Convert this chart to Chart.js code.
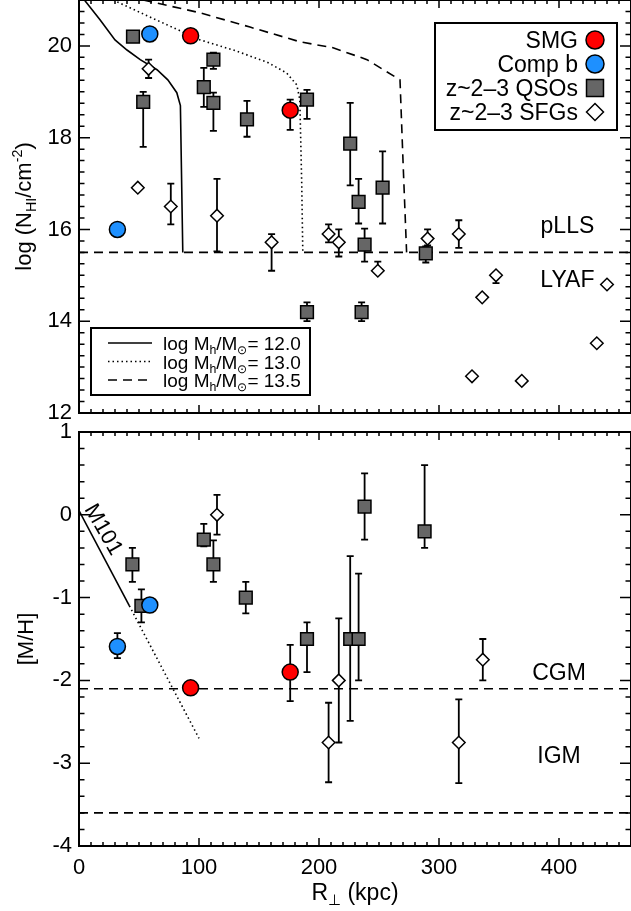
<!DOCTYPE html>
<html>
<head>
<meta charset="utf-8">
<script src="https://cdn.jsdelivr.net/npm/chart.js@4.4.0/dist/chart.umd.min.js"></script>
<style>
  html, body { margin: 0; padding: 0; background: #fff; }
  #wrap { position: relative; width: 631px; height: 911px; overflow: hidden; }
  #wrap canvas { position: absolute; left: 0; }
  #nhi { top: 0; }
  #met { top: 414px; }
</style>
</head>
<body>
<div id="wrap">
  <canvas id="nhi" width="631" height="427"></canvas>
  <canvas id="met" width="631" height="497"></canvas>
</div>
<script>
const FONT = '"Liberation Sans", Arial, Helvetica, sans-serif';

// projected distance axis (kpc)
const xTickVals = [0, 100, 200, 300, 400];
const nhiTickVals = [12, 14, 16, 18, 20];
const metTickVals = [-4, -3, -2, -1, 0, 1];

// SMG
const smgR = [93, 176];
const smgNhi = [20.22, 18.6];
const smgNhiLo = [null, 18.17];
const smgNhiHi = [null, 18.83];
const smgMet = [-2.09, -1.9];
const smgMetLo = [null, -2.25];
const smgMetHi = [null, -1.57];

// companion b
const compR = [59, 32];
const compNhi = [20.26, 16.0];
const compMet = [-1.09, -1.59];
const compMetLo = [null, -1.73];
const compMetHi = [null, -1.43];

// z~2-3 QSO absorbers, log N_HI
const qsoNhiR  = [45, 53.5, 104, 112, 112, 140, 190, 226, 233, 253, 238, 289, 190, 235.5];
const qsoNhi   = [20.2, 18.78, 19.1, 19.7, 18.76, 18.4, 18.83, 17.87, 16.6, 16.91, 15.67, 15.48, 14.2, 14.2];
const qsoNhiLo = [null, 17.8, 18.67, 19.5, 18.15, 18.02, 18.41, 16.96, 16.13, 16.13, 15.3, 15.28, 14.0, 14.0];
const qsoNhiHi = [null, 19.0, 19.52, 19.85, 18.98, 18.8, 19.04, 18.76, 17.1, 17.7, 16.02, 15.63, 14.41, 14.41];

// z~2-3 QSO absorbers, metallicity
const qsoMetR  = [44.5, 52, 104, 112, 139, 190, 238, 288, 226, 233];
const qsoMet   = [-0.6, -1.1, -0.3, -0.6, -1.0, -1.5, 0.1, -0.2, -1.5, -1.5];
const qsoMetLo = [-0.81, -1.3, -0.38, -0.81, -1.19, -1.9, -0.3, -0.4, -2.49, -2.0];
const qsoMetHi = [-0.4, -0.9, -0.11, -0.31, -0.81, -1.3, 0.5, 0.6, -0.5, -0.71];

// z~2-3 star-forming galaxies, log N_HI
const sfgNhiR  = [58, 49, 76.5, 115, 160.5, 208, 216.5, 249, 290.5, 316.5, 347.5, 336, 440, 431.5, 327.5, 369];
const sfgNhi   = [19.5, 16.91, 16.5, 16.3, 15.72, 15.9, 15.72, 15.1, 15.8, 15.9, 15.0, 14.52, 14.8, 13.52, 12.8, 12.7];
const sfgNhiLo = [19.3, null, 16.11, 15.52, 15.1, 15.72, 15.41, null, 15.65, 15.6, 14.83, null, null, null, null, null];
const sfgNhiHi = [19.7, null, 17.0, 17.1, 15.9, 16.11, 16.0, 15.3, 16.0, 16.2, null, null, null, null, null, null];

// z~2-3 star-forming galaxies, metallicity
const sfgMetR  = [115, 216.5, 208, 316.5, 336.5];
const sfgMet   = [0.0, -2.0, -2.75, -2.75, -1.75];
const sfgMetLo = [-0.24, -2.75, -3.23, -3.24, -2.0];
const sfgMetHi = [0.24, -1.25, -2.27, -2.23, -1.5];

// halo model N_HI profiles
const halo12R   = [4.5, 17.5, 30, 40, 51, 65, 74, 81.5, 84.5, 86.5];
const halo12Nhi = [21, 20.57, 20.13, 19.91, 19.7, 19.48, 19.26, 18.98, 18.7, 15.5];
const halo13R   = [28.5, 59, 101, 128.5, 156.5, 173, 181.5, 184, 185.6, 186.5];
const halo13Nhi = [21, 20.63, 20.13, 19.91, 19.65, 19.41, 19.15, 18.83, 17.0, 15.5];
const halo135R   = [53.5, 101, 142.5, 184, 211.7, 240, 267.5, 270, 273];
const halo135Nhi = [21, 20.72, 20.41, 20.09, 19.96, 19.7, 19.26, 17.5, 15.5];

// M101 gradient: measured part, then extrapolated
const m101R      = [0, 42];
const m101Met    = [0.05, -1.1];
const m101ExtR   = [42, 100];
const m101ExtMet = [-1.1, -2.7];

// boundaries
const pllsLevel = 15.5;
const cgmLevel = -2.1;
const igmLevel = -3.6;

const RED = '#ff0000', BLUE = '#1e90ff', GRAY = '#666666';

const pts = (xs, ys) => xs.map((x, i) => ({ x, y: ys[i] }));

function markers(label, xs, ys, lo, hi, style, color, radius) {
  return {
    label, data: pts(xs, ys), errLo: lo, errHi: hi,
    showLine: false, pointStyle: style, pointRadius: radius, pointHoverRadius: radius,
    pointBackgroundColor: color, pointBorderColor: '#000', pointBorderWidth: 1.5
  };
}

function curve(xs, ys, dash) {
  return {
    data: pts(xs, ys), showLine: true, pointRadius: 0, pointHoverRadius: 0,
    borderColor: '#000', borderWidth: 1.6, borderDash: dash || [], fill: false, tension: 0
  };
}

function level(v, dash) {
  return curve([0, 460], [v, v], dash);
}

// vertical error bars with caps, drawn under the symbols
const errorBars = {
  id: 'errorBars',
  beforeDatasetsDraw(chart) {
    const ctx = chart.ctx, ys = chart.scales.y;
    chart.data.datasets.forEach((ds, i) => {
      if (!ds.errLo) return;
      const meta = chart.getDatasetMeta(i);
      ctx.save();
      ctx.strokeStyle = '#000';
      ctx.lineWidth = 1.8;
      meta.data.forEach((pt, j) => {
        const lo = ds.errLo[j], hi = ds.errHi[j];
        if (lo == null && hi == null) return;
        const x = pt.x;
        const y0 = ys.getPixelForValue(lo == null ? ds.data[j].y : lo);
        const y1 = ys.getPixelForValue(hi == null ? ds.data[j].y : hi);
        ctx.beginPath();
        ctx.moveTo(x, y0); ctx.lineTo(x, y1);
        if (lo != null) { ctx.moveTo(x - 3.5, y0); ctx.lineTo(x + 3.5, y0); }
        if (hi != null) { ctx.moveTo(x - 3.5, y1); ctx.lineTo(x + 3.5, y1); }
        ctx.stroke();
      });
      ctx.restore();
    });
  }
};

// box with inward ticks on all four sides
function frameTicks(minorY, majorY) {
  return {
    id: 'frameTicks',
    afterDatasetsDraw(chart) {
      const { ctx, chartArea: a, scales: { x, y } } = chart;
      ctx.save();
      ctx.strokeStyle = '#000';
      ctx.lineWidth = 1.5;
      ctx.beginPath();
      for (let k = 0; k <= 46; k++) {
        const px = x.getPixelForValue(k * 10);
        const len = k % 10 === 0 ? 8 : 4;
        ctx.moveTo(px, a.bottom); ctx.lineTo(px, a.bottom - len);
        ctx.moveTo(px, a.top); ctx.lineTo(px, a.top + len);
      }
      const n = Math.round((y.max - y.min) / minorY);
      const per = Math.round(majorY / minorY);
      for (let k = 0; k <= n; k++) {
        const py = y.getPixelForValue(y.min + k * minorY);
        const len = k % per === 0 ? 11 : 5.5;
        ctx.moveTo(a.left, py); ctx.lineTo(a.left + len, py);
        ctx.moveTo(a.right, py); ctx.lineTo(a.right - len, py);
      }
      ctx.stroke();
      ctx.lineWidth = 2;
      ctx.strokeRect(a.left, a.top, a.right - a.left, a.bottom - a.top);
      ctx.restore();
    }
  };
}

// text with sub/superscript pieces, y is the baseline
function drawRich(ctx, parts, x, y, size, align) {
  const fontFor = m => (m ? size * 0.65 : size) + 'px ' + FONT;
  let w = 0;
  parts.forEach(([t, m]) => { ctx.font = fontFor(m); w += ctx.measureText(t).width; });
  let cx = align === 'center' ? x - w / 2 : align === 'right' ? x - w : x;
  ctx.textAlign = 'left';
  ctx.textBaseline = 'alphabetic';
  parts.forEach(([t, m]) => {
    ctx.font = fontFor(m);
    const dy = m === 'sub' ? size * 0.22 : m === 'sup' ? -size * 0.42 : 0;
    ctx.fillText(t, cx, y + dy);
    cx += ctx.measureText(t).width;
  });
}

function rotated(ctx, x, y, angle, fn) {
  ctx.save();
  ctx.translate(x, y);
  ctx.rotate(angle);
  fn();
  ctx.restore();
}

function symbol(ctx, style, radius, color, x, y) {
  ctx.save();
  ctx.fillStyle = color;
  ctx.strokeStyle = '#000';
  ctx.lineWidth = 1.5;
  Chart.helpers.drawPoint(ctx, { pointStyle: style, radius, rotation: 0, borderWidth: 1.5 }, x, y);
  ctx.restore();
}

function axes(yMin, yMax, yTicks, showX, xHeight) {
  return {
    x: {
      type: 'linear', min: 0, max: 460,
      afterBuildTicks: s => { s.ticks = xTickVals.map(v => ({ value: v })); },
      afterFit: s => { s.height = xHeight; s.paddingLeft = 0; s.paddingRight = 0; },
      grid: { display: false, drawTicks: false },
      border: { display: false },
      ticks: { display: showX, padding: 9, color: '#000', font: { family: FONT, size: 22 }, maxRotation: 0, callback: v => String(v) }
    },
    y: {
      type: 'linear', min: yMin, max: yMax,
      afterBuildTicks: s => { s.ticks = yTicks.map(v => ({ value: v })); },
      afterFit: s => { s.width = 79; s.paddingTop = 0; s.paddingBottom = 0; },
      grid: { display: false, drawTicks: false },
      border: { display: false },
      ticks: { padding: 7, color: '#000', font: { family: FONT, size: 22 }, callback: v => String(v) }
    }
  };
}

const common = {
  responsive: false,
  animation: false,
  events: [],
  plugins: { legend: { display: false }, tooltip: { enabled: false } }
};

// ---- upper panel: H I column density ----
const nhiText = {
  id: 'nhiText',
  afterDraw(chart) {
    const { ctx, chartArea: a, scales: { x, y } } = chart;
    ctx.save();
    ctx.fillStyle = '#000';
    rotated(ctx, 31, (a.top + a.bottom) / 2, -Math.PI / 2, () =>
      drawRich(ctx, [['log (N', ''], ['HI', 'sub'], ['/cm', ''], ['-2', 'sup'], [')', '']], 0, 0, 22, 'center'));

    ctx.font = '23px ' + FONT;
    ctx.textAlign = 'center';
    ctx.textBaseline = 'alphabetic';
    ctx.fillText('pLLS', x.getPixelForValue(407), y.getPixelForValue(15.93));
    ctx.fillText('LYAF', x.getPixelForValue(407), y.getPixelForValue(14.75));

    // sample legend
    ctx.lineWidth = 2;
    ctx.strokeStyle = '#000';
    ctx.strokeRect(435, 23, 182, 107);
    const rows = [
      ['SMG', 'circle', 9, RED],
      ['Comp b', 'circle', 9, BLUE],
      ['z~2\u20133 QSOs', 'rect', 12, GRAY],
      ['z~2\u20133 SFGs', 'rectRot', 8.5, '#fff']
    ];
    ctx.font = '23px ' + FONT;
    ctx.textAlign = 'right';
    rows.forEach(([t, st, r, c], i) => {
      const cy = 40 + i * 24;
      ctx.fillStyle = '#000';
      ctx.fillText(t, 578, cy + 8);
      symbol(ctx, st, r, c, 595, cy);
    });

    // halo model legend
    ctx.fillStyle = '#fff';
    ctx.fillRect(91, 328, 219, 67);
    ctx.lineWidth = 2;
    ctx.strokeRect(91, 328, 219, 67);
    const models = [['12.0', []], ['13.0', [1.5, 3]], ['13.5', [9, 6]]];
    models.forEach(([m, dash], i) => {
      const cy = 343 + i * 18.5;
      ctx.lineWidth = 1.6;
      ctx.setLineDash(dash);
      ctx.beginPath(); ctx.moveTo(108, cy); ctx.lineTo(152, cy); ctx.stroke();
      ctx.setLineDash([]);
      ctx.fillStyle = '#000';
      drawRich(ctx, [['log M', ''], ['h', 'sub'], ['/M', ''], ['\u2299', 'sub'], ['= ' + m, '']], 163, cy + 7, 19, 'left');
    });
    ctx.restore();
  }
};

new Chart(document.getElementById('nhi'), {
  type: 'scatter',
  data: {
    datasets: [
      markers('SMG', smgR, smgNhi, smgNhiLo, smgNhiHi, 'circle', RED, 8),
      markers('Comp b', compR, compNhi, [null, null], [null, null], 'circle', BLUE, 8),
      markers('z~2-3 QSOs', qsoNhiR, qsoNhi, qsoNhiLo, qsoNhiHi, 'rect', GRAY, 9),
      markers('z~2-3 SFGs', sfgNhiR, sfgNhi, sfgNhiLo, sfgNhiHi, 'rectRot', '#fff', 6.3),
      curve(halo12R, halo12Nhi),
      curve(halo13R, halo13Nhi, [1.5, 3]),
      curve(halo135R, halo135Nhi, [9, 6]),
      level(pllsLevel, [9, 6])
    ]
  },
  options: Object.assign({}, common, {
    layout: { autoPadding: false, padding: { top: 0, right: 0, bottom: 0, left: 0 } },
    scales: axes(12, 21, nhiTickVals, false, 14)
  }),
  plugins: [errorBars, frameTicks(0.25, 2), nhiText]
});

// ---- lower panel: metallicity ----
const metText = {
  id: 'metText',
  afterDraw(chart) {
    const { ctx, chartArea: a, scales: { x, y } } = chart;
    ctx.save();
    ctx.fillStyle = '#000';
    rotated(ctx, 33, (a.top + a.bottom) / 2, -Math.PI / 2, () =>
      drawRich(ctx, [['[M/H]', '']], 0, 0, 22, 'center'));
    drawRich(ctx, [['R', ''], ['\u22a5', 'sub'], [' (kpc)', '']], (a.left + a.right) / 2, a.bottom + 54, 23, 'center');

    ctx.font = '23px ' + FONT;
    ctx.textAlign = 'center';
    ctx.textBaseline = 'alphabetic';
    ctx.fillText('CGM', x.getPixelForValue(400), y.getPixelForValue(-2.0));
    ctx.fillText('IGM', x.getPixelForValue(400), y.getPixelForValue(-3.0));

    rotated(ctx, x.getPixelForValue(20), y.getPixelForValue(-0.18), Math.PI / 3, () => {
      ctx.font = '22px ' + FONT;
      ctx.textAlign = 'center';
      ctx.textBaseline = 'middle';
      ctx.fillText('M101', 0, 0);
    });
    ctx.restore();
  }
};

new Chart(document.getElementById('met'), {
  type: 'scatter',
  data: {
    datasets: [
      markers('SMG', smgR, smgMet, smgMetLo, smgMetHi, 'circle', RED, 8),
      markers('Comp b', compR, compMet, compMetLo, compMetHi, 'circle', BLUE, 8),
      markers('z~2-3 QSOs', qsoMetR, qsoMet, qsoMetLo, qsoMetHi, 'rect', GRAY, 9),
      markers('z~2-3 SFGs', sfgMetR, sfgMet, sfgMetLo, sfgMetHi, 'rectRot', '#fff', 6.3),
      curve(m101R, m101Met),
      curve(m101ExtR, m101ExtMet, [1.5, 3]),
      level(cgmLevel, [9, 6]),
      level(igmLevel, [9, 6])
    ]
  },
  options: Object.assign({}, common, {
    layout: { autoPadding: false, padding: { top: 18, right: 0, bottom: 0, left: 0 } },
    scales: axes(-4, 1, metTickVals, true, 65)
  }),
  plugins: [errorBars, frameTicks(0.2, 1), metText]
});
</script>
</body>
</html>
